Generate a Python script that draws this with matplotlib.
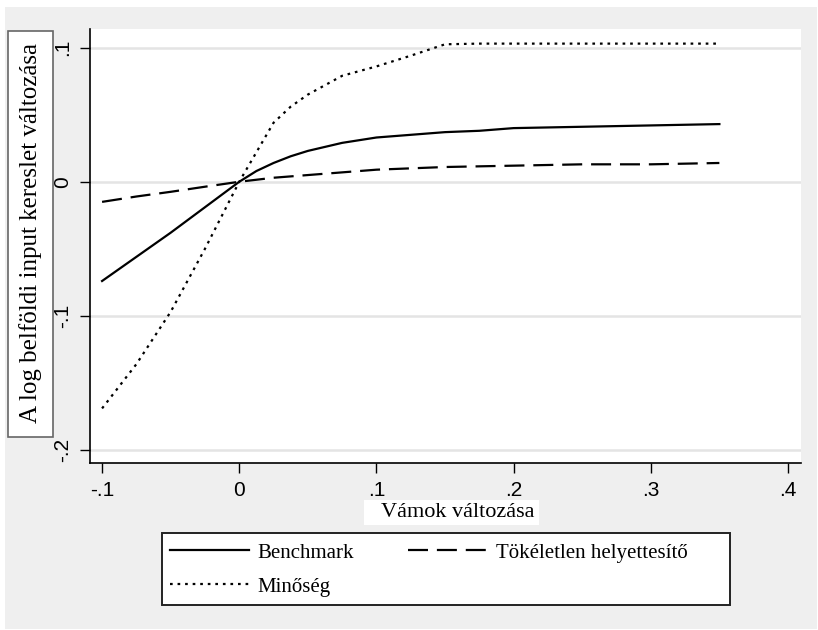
import numpy as np
import matplotlib
matplotlib.use("Agg")
import matplotlib.pyplot as plt
from matplotlib.patches import Rectangle

# tariff change values (x axis)
tariff_change = [-0.1, -0.075, -0.05, -0.025, 0, 0.0125, 0.025, 0.0375, 0.05,
                 0.075, 0.1, 0.125, 0.15, 0.175, 0.2, 0.25, 0.3, 0.35]

# change of log domestic input demand for each scenario
benchmark = [-0.074, -0.056, -0.038, -0.019, 0, 0.008, 0.014, 0.019, 0.023,
             0.029, 0.033, 0.035, 0.037, 0.038, 0.040, 0.041, 0.042, 0.043]
tokeletlen = [-0.015, -0.011, -0.0075, -0.0037, 0, 0.0015, 0.003, 0.004, 0.005,
              0.007, 0.009, 0.010, 0.011, 0.0115, 0.012, 0.013, 0.013, 0.014]
minoseg = [-0.169, -0.136, -0.097, -0.050, 0, 0.022, 0.044, 0.056, 0.065,
           0.079, 0.086, 0.094, 0.1025, 0.103, 0.103, 0.103, 0.103, 0.103]

series_labels = ["Benchmark", "Tökéletlen helyettesítő", "Minőség"]
x_ticks = [-0.1, 0, 0.1, 0.2, 0.3, 0.4]
x_ticklabels = ["-.1", "0", ".1", ".2", ".3", ".4"]
y_ticks = [-0.2, -0.1, 0, 0.1]
y_ticklabels = ["-.2", "-.1", "0", ".1"]

W, H = 818, 630
serif = "Liberation Serif"
sans = "Liberation Sans"


def fx(px):
    return px / W


def fy(py):
    return 1 - py / H


fig = plt.figure(figsize=(W / 100, H / 100), dpi=100, facecolor="white")

# stata-like gray graph region
fig.patches.append(Rectangle((fx(5), fy(629)), fx(812), (629 - 7) / H,
                             transform=fig.transFigure, facecolor="#efefef",
                             edgecolor="none", zorder=-10))

ax = fig.add_axes([fx(90), fy(463), fx(801 - 90), (463 - 29) / H])
ax.set_facecolor("white")

l_bench, = ax.plot(tariff_change, benchmark, color="black", lw=1.6,
                   linestyle="-", label=series_labels[0])
l_tok, = ax.plot(tariff_change, tokeletlen, color="black", lw=1.6,
                 linestyle=(0, (9, 4)), label=series_labels[1])
l_min, = ax.plot(tariff_change, minoseg, color="black", lw=1.6,
                 linestyle=(0, (1.2, 2.2)), label=series_labels[2])

ax.set_xlim(-0.1088, 0.4095)
ax.set_ylim(-0.2097, 0.1139)

ax.set_xticks(x_ticks)
ax.set_xticklabels(x_ticklabels, fontfamily=sans, fontsize=15)
ax.set_yticks(y_ticks)
ax.set_yticklabels(y_ticklabels, fontfamily=sans, fontsize=15,
                   rotation=90, va="center")
ax.tick_params(axis="both", length=7, width=1, color="black", pad=6)

ax.grid(axis="y", color="#e4e4e4", lw=1.8)
ax.set_axisbelow(True)
for side in ["top", "right"]:
    ax.spines[side].set_visible(False)
for side in ["left", "bottom"]:
    ax.spines[side].set_linewidth(1.2)

# y axis title in its own white box
fig.patches.append(Rectangle((fx(8), fy(437)), fx(53 - 8), (437 - 31) / H,
                             transform=fig.transFigure, facecolor="white",
                             edgecolor="#666666", lw=1.2, zorder=1))
fig.text(fx(30.5), fy(233), "A log belföldi input kereslet változása",
         rotation=90, ha="center", va="center", fontfamily=serif, fontsize=18)

# x axis title in white box
fig.patches.append(Rectangle((fx(364), fy(525)), fx(539 - 364), (525 - 500) / H,
                             transform=fig.transFigure, facecolor="white",
                             edgecolor="none", zorder=1))
fig.text(fx(458), fy(512.5), "Vámok változása", ha="center", va="center",
         fontfamily=serif, fontsize=16)

# legend frame drawn separately so the entries keep their natural spacing
fig.patches.append(Rectangle((fx(162), fy(605)), fx(730 - 162), (605 - 533) / H,
                             transform=fig.transFigure, facecolor="white",
                             edgecolor="#222222", lw=1.4, zorder=1))

# column-wise fill: Benchmark, Minőség | Tökéletlen helyettesítő
leg = fig.legend([l_bench, l_min, l_tok],
                 [series_labels[0], series_labels[2], series_labels[1]],
                 loc="upper left", ncol=2,
                 bbox_to_anchor=(fx(170), fy(543)),
                 bbox_transform=fig.transFigure,
                 prop={"family": serif, "size": 15},
                 handlelength=3.8, handletextpad=0.4, columnspacing=2.6,
                 labelspacing=0.7, borderpad=0, borderaxespad=0,
                 frameon=False)
leg.set_zorder(2)

fig.savefig("out.png", dpi=100, facecolor="white")
